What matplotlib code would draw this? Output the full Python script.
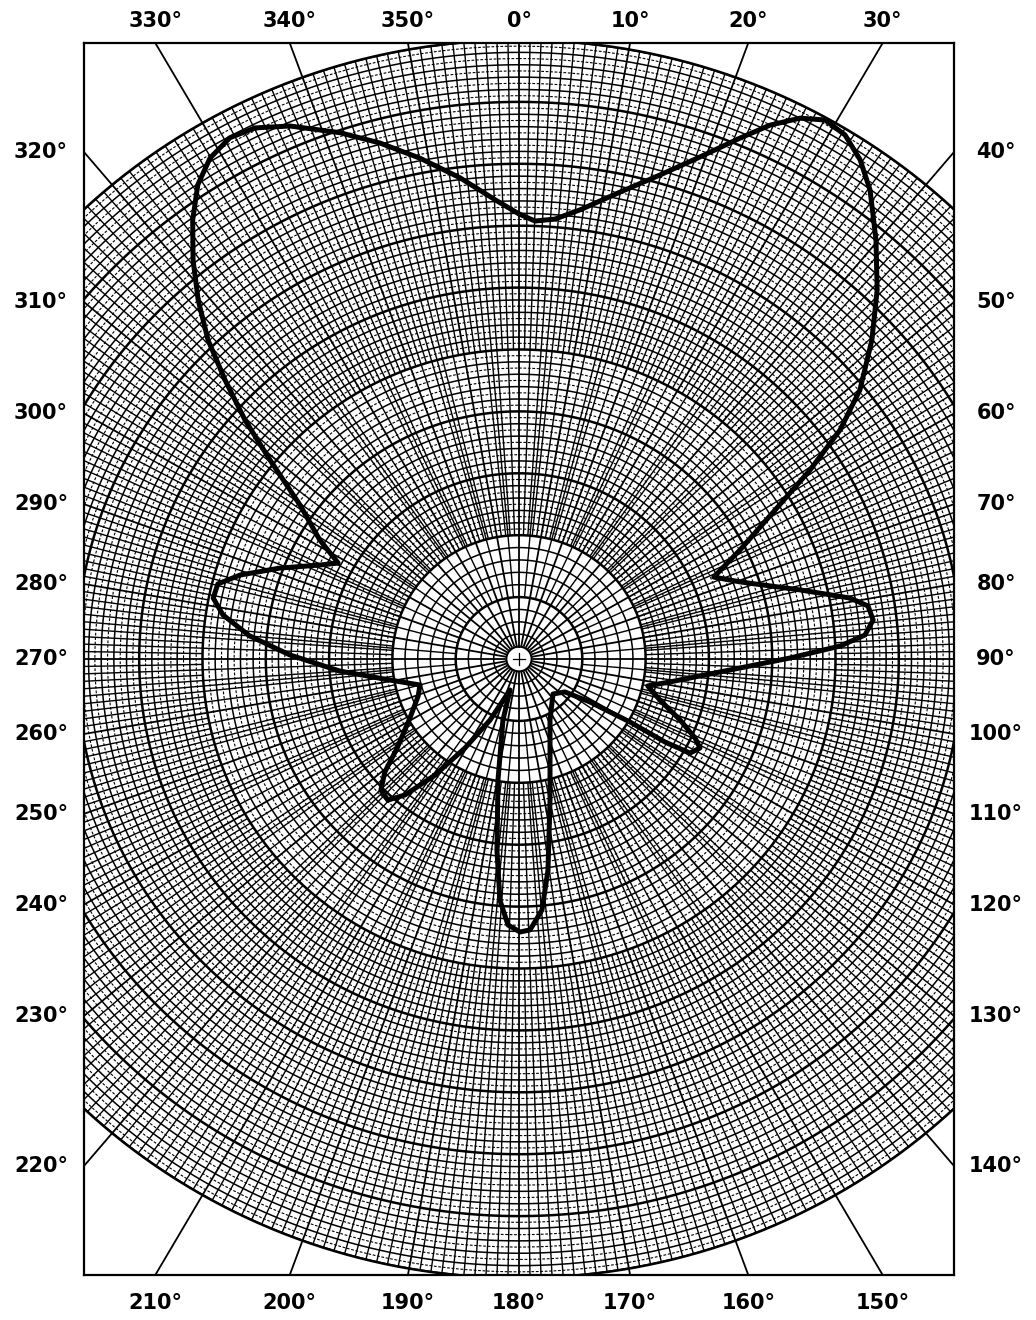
import numpy as np
import matplotlib
matplotlib.use('Agg')
import matplotlib.pyplot as plt
from matplotlib.collections import LineCollection
from matplotlib.path import Path
from matplotlib.patches import PathPatch

# ---------------- pattern data (angle clockwise from 0 deg at top, relative radius) ----------------
theta_deg = [0.0, 2.05, 4.58, 7.57, 11.95, 15.9, 19.42, 22.53, 24.68, 26.93, 29.04, 31.31,
             33.75, 36.2, 39.8, 43.5, 47.26, 51.1, 53.88, 56.41, 59.24, 63.23, 66.73,
             70.39, 75.9, 79.33, 81.17, 83.57, 85.94, 87.63, 89.79, 93.78, 98.86, 102.08,
             106.55, 111.17, 114.65, 116.7, 119.35, 120.18, 120.13, 121.77, 126.25, 136.46,
             153.55, 167.86, 172.35, 174.88, 177.72, 179.79, 182.32, 184.41, 186.43, 189.64,
             194.4, 195.8, 204.9, 210.67, 215.3, 219.34, 222.27, 225.86, 229.23, 233.27,
             241.04, 249.46, 254.97, 260.56, 266.08, 271.03, 275.0, 278.65, 281.52, 284.3,
             287.11, 291.27, 295.79, 298.48, 301.44, 305.71, 309.26, 311.73, 314.14, 316.37,
             318.84, 321.38, 324.0, 326.49, 328.9, 331.52, 334.07, 337.21, 341.6, 345.24,
             349.06, 353.16, 357.07, 360.0]
radius = [0.719, 0.708, 0.713, 0.732, 0.771, 0.813, 0.860, 0.911, 0.949, 0.980, 0.996, 0.991,
          0.970, 0.939, 0.881, 0.822, 0.759, 0.692, 0.628, 0.552, 0.471, 0.391, 0.335,
          0.371, 0.458, 0.532, 0.558, 0.563, 0.548, 0.508, 0.428, 0.318, 0.241, 0.208,
          0.232, 0.273, 0.306, 0.320, 0.310, 0.267, 0.203, 0.132, 0.090, 0.078,
          0.110, 0.233, 0.344, 0.407, 0.438, 0.441, 0.430, 0.391, 0.311, 0.198,
          0.102, 0.052, 0.109, 0.167, 0.230, 0.284, 0.308, 0.304, 0.280, 0.240,
          0.197, 0.170, 0.162, 0.207, 0.284, 0.362, 0.427, 0.473, 0.493, 0.491,
          0.461, 0.405, 0.349, 0.325, 0.369, 0.426, 0.508, 0.580, 0.647, 0.712,
          0.770, 0.825, 0.877, 0.919, 0.945, 0.958, 0.954, 0.934, 0.896, 0.862,
          0.824, 0.783, 0.743, 0.719]

label_angles = list(range(0, 360, 10))

# ---------------- figure / frame ----------------
W, H = 1036, 1320
fig = plt.figure(figsize=(W/100, H/100), dpi=100)
fl, ft, fr, fb = 84, 43, 954, 1275          # frame in pixels
ax = fig.add_axes([fl/W, 1-fb/H, (fr-fl)/W, (fb-ft)/H])
sx, sy = 633.0, 619.0                        # pixels per unit radius (x, y)
xl, yl = (fr-fl)/2/sx, (fb-ft)/2/sy
ax.set_xlim(-xl, xl)
ax.set_ylim(-yl, yl)
ax.set_xticks([])
ax.set_yticks([])
for s in ax.spines.values():
    s.set_linewidth(1.6)


def ring(r, n=900):
    t = np.linspace(0, 2*np.pi, n)
    return np.column_stack([r*np.sin(t), r*np.cos(t)])


def spoke(a, r0, r1):
    t = np.radians(a)
    return [(r0*np.sin(t), r0*np.cos(t)), (r1*np.sin(t), r1*np.cos(t))]


# rings
major = [ring(r) for r in np.arange(0.1, 1.001, 0.1)]
minor = [ring(r) for r in np.arange(0.04, 1.0, 0.02) if abs(r*10 - round(r*10)) > 1e-6]
fine = [ring(r) for r in np.arange(0.21, 1.0, 0.02)]
ax.add_collection(LineCollection(fine, colors='k', linewidths=0.8, linestyles=(0, (2.5, 1.5))))
ax.add_collection(LineCollection(minor, colors='k', linewidths=1.1))
ax.add_collection(LineCollection(major, colors='k', linewidths=1.8))

# spokes
sp = []
for a in np.arange(0, 360, 5):
    if a % 10:
        sp.append(spoke(a, 0.1, 1.0))
for a in np.arange(0, 360, 2):
    if a % 10:
        sp.append(spoke(a, 0.2, 1.0))
for a in np.arange(0, 360, 1):
    if a % 2 and a % 5:
        sp.append(spoke(a, 0.5, 1.0))
ax.add_collection(LineCollection(sp, colors='k', linewidths=1.0))
sp10 = [spoke(a, 0.02, 2.0) for a in label_angles]

# corners outside the outer circle stay blank apart from 10 deg lines
outer = ring(1.0)
big = np.array([[-2, -2], [2, -2], [2, 2], [-2, 2], [-2, -2]])
verts = np.concatenate([big, outer])
codes = [Path.MOVETO] + [Path.LINETO]*4 + [Path.MOVETO] + [Path.LINETO]*(len(outer)-1)
ax.add_patch(PathPatch(Path(verts, codes), facecolor='white', edgecolor='none', zorder=2))
ax.add_collection(LineCollection(sp10, colors='k', linewidths=1.3, zorder=3))
ax.plot(outer[:, 0], outer[:, 1], color='k', lw=1.8, zorder=3)

# centre mark
c = ring(0.02, 200)
ax.fill(c[:, 0], c[:, 1], color='white', zorder=4)
ax.plot(c[:, 0], c[:, 1], color='k', lw=1.5, zorder=5)
ax.plot([-0.009, 0.009], [0, 0], color='k', lw=0.9, zorder=5)
ax.plot([0, 0], [-0.009, 0.009], color='k', lw=0.9, zorder=5)

# pattern
th = np.radians(theta_deg)
rr = np.array(radius)
ax.plot(rr*np.sin(th), rr*np.cos(th), color='k', lw=3.6, zorder=6,
        solid_joinstyle='round', solid_capstyle='round')

# angle labels where the 10 deg lines meet the frame
cx, cy = (fl+fr)/2, (ft+fb)/2
for a in label_angles:
    t = np.radians(a)
    s, co = np.sin(t), np.cos(t)
    k = min(xl/abs(s) if abs(s) > 1e-9 else 9e9, yl/abs(co) if abs(co) > 1e-9 else 9e9)
    px, py = cx + k*s*sx, cy - k*co*sy
    if abs(py-ft) < 1:
        x, y = px, 21
    elif abs(py-fb) < 1:
        x, y = px, 1303
    elif px > cx:
        x, y = 996, py
    else:
        x, y = 41, py
    fig.text(x/W, 1-y/H, f'{a}°', ha='center', va='center', fontsize=15,
             fontweight='bold', family='DejaVu Sans')

fig.savefig('out.png', dpi=100)
